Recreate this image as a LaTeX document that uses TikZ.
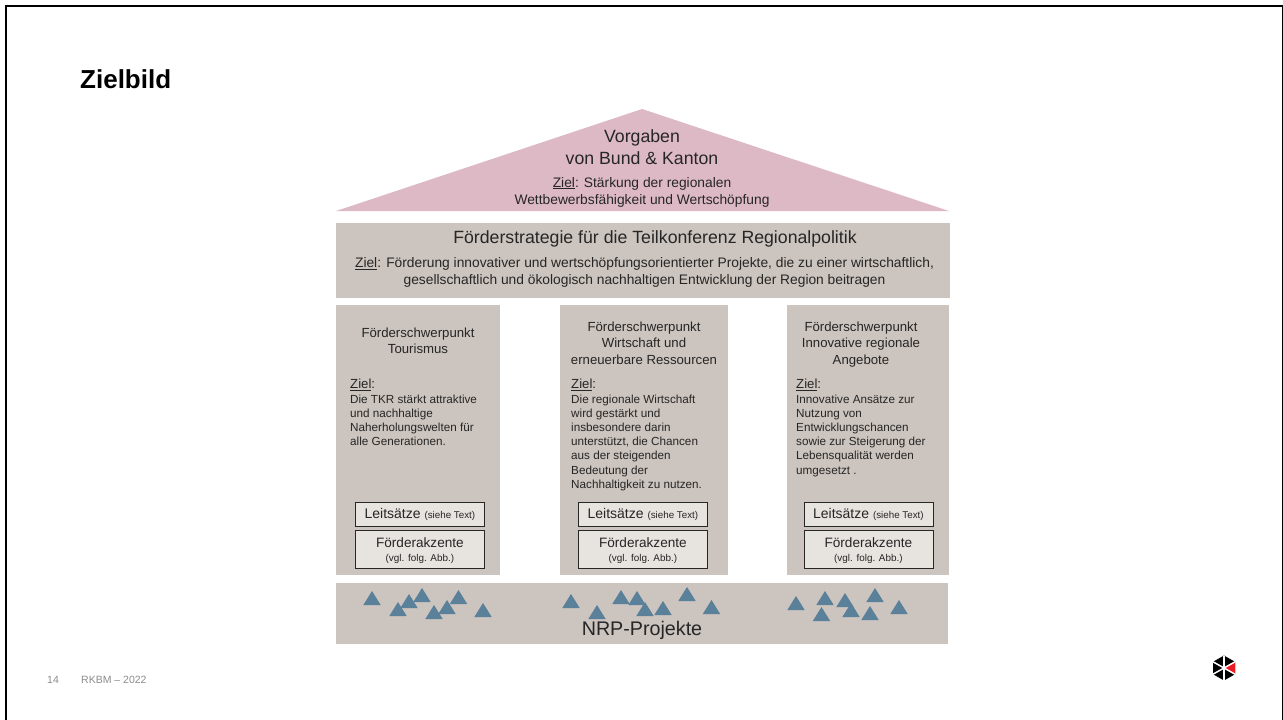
\documentclass[tikz,border=0pt]{standalone}
\usepackage{fontspec}
\setmainfont{Liberation Sans}
\newcommand{\zl}{\underline{Ziel}}
\newcommand{\fs}[2]{\fontsize{#1}{#2}\selectfont}
\definecolor{taupe}{HTML}{CCC4BE}
\definecolor{boxfill}{HTML}{E7E3DF}
\definecolor{triblue}{HTML}{5B8099}
\definecolor{roof}{HTML}{DDB9C6}
\definecolor{ink}{HTML}{262626}
\definecolor{foot}{HTML}{8C8C8C}
\definecolor{logored}{HTML}{ED1C24}
\tikzset{
  x=1pt,y=-1pt,
  panel/.style={fill=taupe,draw=none,inner sep=0pt,anchor=north west},
  innerbox/.style={fill=boxfill,draw=ink,line width=0.8pt,inner sep=0pt,anchor=north west,minimum width=129pt},
  txt/.style={inner sep=0pt,align=center,text=ink},
  ltxt/.style={inner sep=0pt,align=left,text=ink,anchor=north west},
  big/.style={font=\fs{17.7}{21.5}},
  mid/.style={font=\fs{13.8}{17}},
  head/.style={font=\fs{13.2}{16.3}},
  body/.style={font=\fs{11.7}{14.2}},
  tri/.style={fill=triblue,draw=none},
  footer/.style={inner sep=0pt,anchor=base west,text=foot,font=\fs{10.5}{12}},
}
\newcommand{\trg}[2]{\fill[tri] (#1-8.7,#2+7) -- (#1,#2-7) -- (#1+8.7,#2+7) -- cycle;}
\begin{document}
\begin{tikzpicture}
\useasboundingbox (0,0) rectangle (1283,720);
\fill[white] (0,0) rectangle (1283,720);
\draw[black,line width=2pt] (6,720) -- (6,6) -- (1283,6);
\draw[black,line width=1pt] (1282,6) -- (1282,720);
\node[inner sep=0pt,anchor=base west,font=\fs{26}{30}\bfseries,text=black] (title) at (80,88) {Zielbild};
% roof
\fill[roof] (336,211) -- (642,109) -- (949,211) -- cycle;
\node[txt,big] (roofhead) at (642,147) {Vorgaben\\von Bund \& Kanton};
\node[txt,mid] (roofgoal) at (642,192) {\zl: Stärkung der regionalen\\Wettbewerbsfähigkeit und Wertschöpfung};
% strategy band
\node[panel,minimum width=614pt,minimum height=75pt] (strategy) at (336,223) {};
\node[txt,big] (strathead) at (655,239) {Förderstrategie für die Teilkonferenz Regionalpolitik};
\node[txt,mid] (stratgoal) at (644.5,272.5) {\zl: Förderung innovativer und wertschöpfungsorientierter Projekte, die zu einer wirtschaftlich,\\gesellschaftlich und ökologisch nachhaltigen Entwicklung der Region beitragen};
% columns
\node[panel,minimum width=164pt,minimum height=270pt] (colA) at (336,305) {};
\node[panel,minimum width=168pt,minimum height=270pt] (colB) at (560,305) {};
\node[panel,minimum width=162pt,minimum height=270pt] (colC) at (787,305) {};
\node[txt,head] (headA) at (418,341) {Förderschwerpunkt\\Tourismus};
\node[txt,head] (headB) at (644,343) {Förderschwerpunkt\\Wirtschaft und\\erneuerbare Ressourcen};
\node[txt,head] (headC) at (861,344.5) {Förderschwerpunkt\\Innovative regionale\\Angebote};
\node[ltxt,head] (zielA) at (350,378.5) {\zl:};
\node[ltxt,head] (zielB) at (571,378.5) {\zl:};
\node[ltxt,head] (zielC) at (796,378.5) {\zl:};
\node[ltxt,body] (bodyA) at (350,394.5) {Die TKR stärkt attraktive\\und nachhaltige\\Naherholungswelten für\\alle Generationen.};
\node[ltxt,body] (bodyB) at (571,394.5) {Die regionale Wirtschaft\\wird gestärkt und\\insbesondere darin\\unterstützt, die Chancen\\aus der steigenden\\Bedeutung der\\Nachhaltigkeit zu nutzen.};
\node[ltxt,body] (bodyC) at (796,394.5) {Innovative Ansätze zur\\Nutzung von\\Entwicklungschancen\\sowie zur Steigerung der\\Lebensqualität werden\\umgesetzt .};
% inner boxes
\foreach \n/\x in {A/355,B/578,C/803.5}{
  \node[innerbox,minimum height=24pt] (leit\n) at (\x,502) {};
  \node[innerbox,minimum height=38pt] (akz\n) at (\x,530) {};
  \node[txt,font=\fs{14}{16}] (leitt\n) at (leit\n.center) {Leitsätze {\fontsize{9.8}{11}\selectfont(siehe Text)}};
  \node[txt,font=\fs{13.6}{15}] (akzh\n) at ([yshift=7pt]akz\n.center) {Förderakzente};
  \node[txt,font=\fs{9.9}{11}] (akzs\n) at ([yshift=-9.5pt]akz\n.center) {(vgl. folg. Abb.)};
}
% projects band
\node[panel,minimum width=612pt,minimum height=61pt] (projects) at (336,583) {};
\trg{372}{598}\trg{398}{609}\trg{409}{601}\trg{422}{595}\trg{434}{612}\trg{447}{607}\trg{458.5}{597}\trg{483}{610}
\trg{571}{601}\trg{597}{612}\trg{621}{597}\trg{637}{598}\trg{645}{609}\trg{663}{608}\trg{687}{594}\trg{711.5}{607}
\trg{796}{603}\trg{825}{598}\trg{845}{600}\trg{851}{610}\trg{870}{613}\trg{875}{595}\trg{899}{607}\trg{821.5}{614}
\node[txt,font=\fs{19.7}{22}] (nrp) at (642,630) {NRP-Projekte};
% footer
\node[footer] (pageno) at (47,683.5) {14};
\node[footer] (deck) at (81,683.5) {RKBM – 2022};
% logo
\begin{scope}[shift={(1224,668)}]
  \coordinate (h0) at (0,0);
  \coordinate (h1) at (0,-12.5);
  \coordinate (h2) at (11,-6.2);
  \coordinate (h3) at (11,6.2);
  \coordinate (h4) at (0,12.5);
  \coordinate (h5) at (-11,6.2);
  \coordinate (h6) at (-11,-6.2);
  \fill[black] (h1) -- (h2) -- (h3) -- (h4) -- (h5) -- (h6) -- cycle;
  \fill[logored] (h0) -- (h2) -- (h3) -- cycle;
  \foreach \p in {h1,h2,h3,h4,h5,h6}{\draw[white,line width=1.5pt] (h0) -- (\p);}
\end{scope}
\end{tikzpicture}
\end{document}
